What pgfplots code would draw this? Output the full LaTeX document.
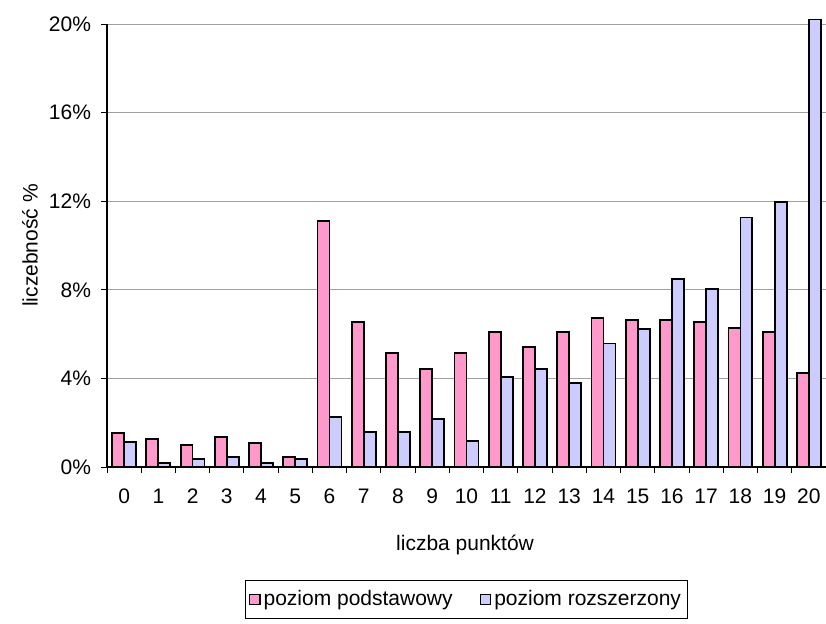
\documentclass[border=0pt]{standalone}
\usepackage{pgfplots}
\pgfplotsset{compat=1.18}
\usepackage{fontspec}
\setmainfont{Liberation Sans}
\definecolor{pinkbar}{HTML}{FF99CC}
\definecolor{bluebar}{HTML}{CCCCFF}
\definecolor{gridgray}{HTML}{A0A0A0}
\pgfplotsset{/pgfplots/ybar legend/.style={/pgfplots/legend image code/.code={\draw[##1, line width=0.6pt] (-3pt,-2.6pt) rectangle (2.2pt,2.6pt);}}}
\begin{document}
\begin{tikzpicture}[font=\fontsize{10.5}{12}\selectfont]
\useasboundingbox (0,0) rectangle (413pt,311.5pt);
\begin{axis}[
  at={(53.5pt,78pt)}, anchor=south west,
  scale only axis, width=359.5pt, height=221.5pt,
  xmin=-0.5, xmax=20.5, ymin=0, ymax=20,
  clip=false,
  /pgf/number format/assume math mode=true,
  ybar=0pt, bar width=0.35,
  axis x line=bottom, axis y line=left,
  axis line style={-, black, line width=0.6pt},
  tick align=outside,
  xtick={0,...,20},
  major x tick style={draw=none},
  minor xtick={-0.5,0.5,...,20.5},
  minor tick length=3pt,
  major tick length=3pt,
  tick style={black, line width=0.5pt},
  ytick={0,4,8,12,16,20},
  yticklabels={0\%,4\%,8\%,12\%,16\%,20\%},
  ymajorgrids, grid style={gridgray, line width=0.5pt},
  xticklabel style={yshift=-4.5pt},
  yticklabel style={xshift=-1.5pt},
  xlabel={liczba punktów},
  ylabel={liczebność \%},
  xlabel style={at={(axis description cs:0.498,-0.176)}, anchor=center},
  ylabel style={at={(axis description cs:-0.107,0.5)}, anchor=center},
  legend style={at={(axis description cs:0.5,-0.255)}, anchor=north,
    legend columns=2, draw=black, line width=0.5pt,
    inner xsep=1.5pt, inner ysep=3pt,
    nodes={inner xsep=1.5pt},
    /tikz/every even column/.append style={column sep=12pt}},
]
\addplot[fill=pinkbar, draw=black, line width=0.9pt] coordinates {
(0,1.52) (1,1.25) (2,0.98) (3,1.34) (4,1.07) (5,0.44) (6,11.09) (7,6.56)
(8,5.13) (9,4.41) (10,5.13) (11,6.11) (12,5.40) (13,6.11) (14,6.74)
(15,6.64) (16,6.64) (17,6.56) (18,6.29) (19,6.11) (20,4.23)};
\addplot[fill=bluebar, draw=black, line width=0.9pt] coordinates {
(0,1.14) (1,0.17) (2,0.35) (3,0.44) (4,0.17) (5,0.35) (6,2.24) (7,1.59)
(8,1.59) (9,2.15) (10,1.16) (11,4.05) (12,4.41) (13,3.78) (14,5.58)
(15,6.22) (16,8.47) (17,8.02) (18,11.26) (19,11.98) (20,20.2)};
\legend{poziom podstawowy, poziom rozszerzony}
\end{axis}
\end{tikzpicture}
\end{document}
